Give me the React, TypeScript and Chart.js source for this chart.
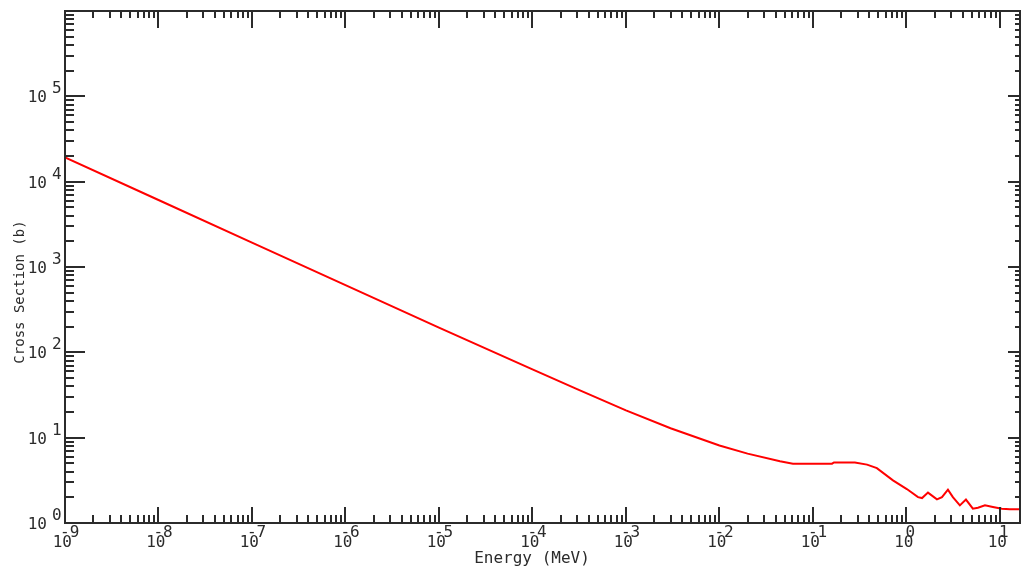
import { useEffect, useRef } from 'react';
import { Chart, registerables } from 'chart.js';

Chart.register(...registerables);

// Energy (MeV) and cross section (b)
const energy = [
  1e-9, 1e-8, 1e-7, 1e-6, 1e-5, 1e-4, 3e-4, 1e-3, 3e-3, 1e-2, 2e-2,
  0.0444, 0.0611, 0.1, 0.16, 0.168, 0.281, 0.379, 0.483, 0.718, 1.01,
  1.33, 1.47, 1.7, 2.12, 2.4, 2.78, 3.14, 3.73, 4.33, 5.14, 5.82, 6.92,
  8.41, 10.5, 12.8, 16.4,
];
const crossSection = [
  19300, 6100, 1930, 612, 195, 63, 37, 20.9, 12.9, 8.1, 6.5,
  5.28, 4.96, 4.96, 4.96, 5.13, 5.13, 4.83, 4.4, 3.16, 2.5,
  2.01, 1.96, 2.27, 1.89, 2.01, 2.46, 2.01, 1.61, 1.88, 1.47, 1.51, 1.61,
  1.54, 1.47, 1.45, 1.45,
];

// tick label exponents (labels read "10^n")
const xTickExponents = [-9, -8, -7, -6, -5, -4, -3, -2, -1, 0, 1];
const yTickExponents = [0, 1, 2, 3, 4, 5];

const xMin = 1e-9;
const xMax = 16.4;
const yMin = 1;
const yMax = 1e6;

const xTitle = 'Energy (MeV)';
const yTitle = 'Cross Section (b)';

const INK = '#2b2b2b';
const FONT = '"DejaVu Sans Mono", "Liberation Mono", monospace';

const framePlugin = {
  id: 'frameTicks',
  afterDraw(chart: any) {
    const ctx = chart.ctx as CanvasRenderingContext2D;
    const { left, right, top, bottom } = chart.chartArea;
    const xs = chart.scales.x;
    const ys = chart.scales.y;
    ctx.save();
    ctx.strokeStyle = INK;
    ctx.lineWidth = 2;
    ctx.strokeRect(left, top, right - left, bottom - top);

    ctx.beginPath();
    // x ticks (bottom & top, inward)
    for (let d = -10; d <= 2; d++) {
      for (let k = 1; k <= 9; k++) {
        const v = k * Math.pow(10, d);
        if (v < xs.min * 0.999 || v > xs.max * 1.001) continue;
        const px = Math.round(xs.getPixelForValue(v));
        const major = k === 1;
        ctx.moveTo(px, bottom);
        ctx.lineTo(px, bottom - (major ? 16 : 8));
        ctx.moveTo(px, top);
        ctx.lineTo(px, top + (major ? 17 : 7));
      }
    }
    // y ticks (left & right, inward)
    for (let d = -1; d <= 7; d++) {
      for (let k = 1; k <= 9; k++) {
        const v = k * Math.pow(10, d);
        if (v < ys.min * 0.999 || v > ys.max * 1.001) continue;
        const py = Math.round(ys.getPixelForValue(v));
        const major = k === 1;
        ctx.moveTo(left, py);
        ctx.lineTo(left + (major ? 20 : 9), py);
        ctx.moveTo(right, py);
        ctx.lineTo(right - (major ? 12 : 5), py);
      }
    }
    ctx.stroke();

    ctx.fillStyle = INK;
    ctx.font = `16px ${FONT}`;
    ctx.textBaseline = 'alphabetic';
    // x tick labels
    for (const n of xTickExponents) {
      const px = xs.getPixelForValue(Math.pow(10, n));
      ctx.textAlign = 'right';
      ctx.fillText('10', px + 7, bottom + 24);
      ctx.textAlign = 'left';
      ctx.fillText(String(n), n < 0 ? px - 5 : px - 1, bottom + 14);
    }
    // y tick labels
    for (const n of yTickExponents) {
      const py = ys.getPixelForValue(Math.pow(10, n));
      ctx.textAlign = 'right';
      ctx.fillText('10', 47, py + 6);
      ctx.textAlign = 'left';
      ctx.fillText(String(n), 52, py - 3);
    }
    // axis titles
    ctx.textAlign = 'center';
    ctx.fillText(xTitle, 532, 563);
    ctx.save();
    ctx.translate(20, 292);
    ctx.rotate(-Math.PI / 2);
    ctx.font = `14px ${FONT}`;
    ctx.textBaseline = 'middle';
    ctx.fillText(yTitle, 0, 0);
    ctx.restore();
    ctx.restore();
  },
};

export default function App() {
  const ref = useRef<HTMLCanvasElement | null>(null);
  useEffect(() => {
    document.body.style.margin = '0';
    const canvas = ref.current;
    if (!canvas) return;
    const chart = new Chart(canvas, {
      type: 'line',
      data: {
        datasets: [
          {
            data: energy.map((e, i) => ({ x: e, y: crossSection[i] })),
            borderColor: '#ff0000',
            borderWidth: 2,
            pointRadius: 0,
            tension: 0,
            fill: false,
          },
        ],
      },
      options: {
        responsive: false,
        animation: false,
        devicePixelRatio: 1,
        layout: { padding: { top: 11, right: 1, left: 0, bottom: 0 } },
        plugins: { legend: { display: false }, tooltip: { enabled: false } },
        scales: {
          x: {
            type: 'logarithmic',
            min: xMin,
            max: xMax,
            ticks: { display: false },
            grid: { display: false },
            border: { display: false },
            afterFit(scale: any) {
              scale.height = 44;
            },
          },
          y: {
            type: 'logarithmic',
            min: yMin,
            max: yMax,
            ticks: { display: false },
            grid: { display: false },
            border: { display: false },
            afterFit(scale: any) {
              scale.width = 65;
            },
          },
        },
      },
      plugins: [framePlugin],
    } as any);
    return () => chart.destroy();
  }, []);
  return (
    <canvas
      ref={ref}
      width={1021}
      height={567}
      style={{ display: 'block', width: 1021, height: 567 }}
    />
  );
}
